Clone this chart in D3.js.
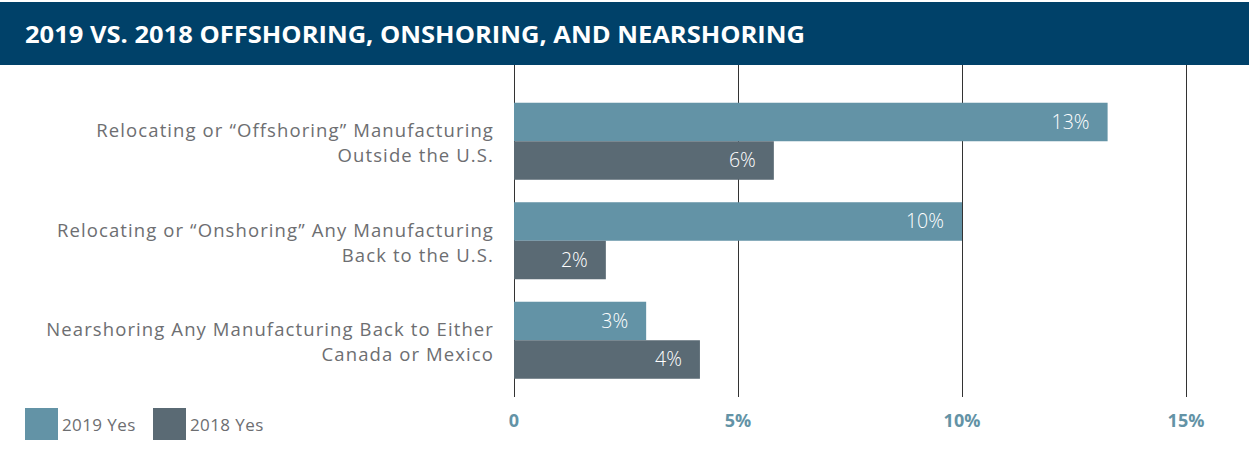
<!DOCTYPE html>
<html><head><meta charset="utf-8">
<script src="https://cdn.jsdelivr.net/npm/d3@7"></script>
<style>body{margin:0;background:#fff}svg{display:block}</style>
</head><body>
<svg id="c" width="1249" height="466"></svg>
<script>
const title = "2019 VS. 2018 OFFSHORING, ONSHORING, AND NEARSHORING";
const categories = [
  ["Relocating or \u201cOffshoring\u201d Manufacturing", "Outside the U.S."],
  ["Relocating or \u201cOnshoring\u201d Any Manufacturing", "Back to the U.S."],
  ["Nearshoring Any Manufacturing Back to Either", "Canada or Mexico"]
];
const seriesNames = ["2019 Yes", "2018 Yes"];
const values2019 = [13.25, 10.0, 2.95];
const values2018 = [5.8, 2.05, 4.15];
const labels2019 = ["13%", "10%", "3%"];
const labels2018 = ["6%", "2%", "4%"];
const tickValues = [0, 5, 10, 15];
const tickLabels = ["0", "5%", "10%", "15%"];
const colors = ["#6393a6", "#5a6a74"];

const svg = d3.select("#c");

// header
svg.append("rect").attr("x",0).attr("y",2).attr("width",1249).attr("height",63).attr("fill","#004169");
svg.append("text").attr("x",25).attr("y",43).attr("fill","#fff")
  .attr("font-family","'Open Sans', sans-serif").attr("font-weight",700).attr("font-size",22.5)
  .attr("textLength",780).attr("lengthAdjust","spacingAndGlyphs")
  .text(title);

const x = d3.scaleLinear().domain([0,15]).range([514,1186]);
const y = d3.scaleBand().domain(d3.range(categories.length)).range([91.5,390]).paddingInner(0.226).paddingOuter(0.113);
const y2 = d3.scaleBand().domain([0,1]).range([0,y.bandwidth()]);

// gridlines
svg.append("g").selectAll("line").data(tickValues).join("line")
  .attr("x1",d=>x(d)+0.5).attr("x2",d=>x(d)+0.5).attr("y1",65).attr("y2",397)
  .attr("stroke","#333").attr("stroke-width",1);

// tick labels
svg.append("g").selectAll("text").data(tickValues).join("text")
  .attr("x",d=>x(d)).attr("y",427).attr("text-anchor","middle")
  .attr("fill","#6393a6").attr("font-family","'Open Sans', sans-serif").attr("font-weight",700).attr("font-size",18)
  .text((d,i)=>tickLabels[i]);

const data = categories.map((c,i)=>({i, vals:[values2019[i], values2018[i]], labs:[labels2019[i], labels2018[i]]}));
const g = svg.append("g").selectAll("g").data(data).join("g").attr("transform",d=>`translate(0,${y(d.i)})`);
g.selectAll("rect").data(d=>d.vals.map((v,k)=>({v,k}))).join("rect")
  .attr("x",x(0)).attr("y",d=>y2(d.k)).attr("width",d=>x(d.v)-x(0)).attr("height",y2.bandwidth())
  .attr("fill",d=>colors[d.k]);
g.selectAll("text.v").data(d=>d.vals.map((v,k)=>({v,k,l:d.labs[k]}))).join("text").attr("class","v")
  .attr("x",d=>x(d.v)-18).attr("y",d=>y2(d.k)+y2.bandwidth()/2+7).attr("text-anchor","end")
  .attr("fill","#fff").attr("font-family","'Open Sans', sans-serif").attr("font-weight",300).attr("font-size",19.5)
  .text(d=>d.l);

// category labels
svg.append("g").selectAll("text").data(categories).join("text")
  .attr("text-anchor","end").attr("fill","#6d6e71").attr("font-family","'Open Sans', sans-serif").attr("font-size",18.5)
  .attr("letter-spacing",1.1)
  .attr("transform",(d,i)=>`translate(494,${y(i)+y.bandwidth()/2})`)
  .selectAll("tspan").data(d=>d).join("tspan")
  .attr("x",0).attr("y",(d,k)=>k===0?-4:21).text(d=>d);

// legend
const lg = svg.append("g").selectAll("g").data(seriesNames).join("g")
  .attr("transform",(d,i)=>`translate(${[25,153][i]},408)`);
lg.append("rect").attr("width",33).attr("height",32).attr("fill",(d,i)=>colors[i]);
lg.append("text").attr("x",37).attr("y",23).attr("fill","#6d6e71").attr("font-family","'Open Sans', sans-serif").attr("font-size",17)
  .attr("letter-spacing",0.4).text(d=>d);
</script>
</body></html>
